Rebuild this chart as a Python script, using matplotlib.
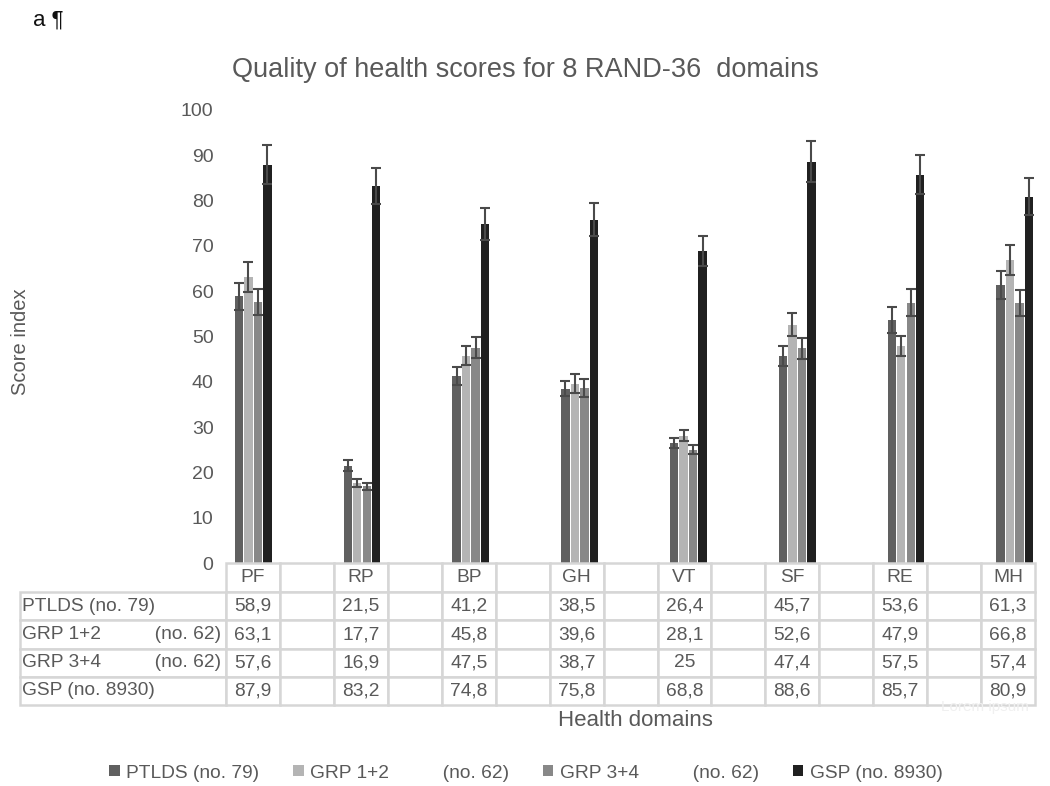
import numpy as np
import matplotlib
matplotlib.use('Agg')
from matplotlib import pyplot as plt
from matplotlib.table import Table

plt.rcParams['font.family'] = ['Liberation Sans', 'DejaVu Sans']

domains = ['PF', 'RP', 'BP', 'GH', 'VT', 'SF', 'RE', 'MH']
series = ['PTLDS (no. 79)', 'GRP 1+2', 'GRP 3+4', 'GSP (no. 8930)']
table_labels = ['PTLDS (no. 79)', 'GRP 1+2          (no. 62)',
                'GRP 3+4          (no. 62)', 'GSP (no. 8930)']
legend_labels = ['PTLDS (no. 79)', 'GRP 1+2          (no. 62)',
                 'GRP 3+4          (no. 62)', 'GSP (no. 8930)']

ptlds = [58.9, 21.5, 41.2, 38.5, 26.4, 45.7, 53.6, 61.3]
grp12 = [63.1, 17.7, 45.8, 39.6, 28.1, 52.6, 47.9, 66.8]
grp34 = [57.6, 16.9, 47.5, 38.7, 25, 47.4, 57.5, 57.4]
gsp = [87.9, 83.2, 74.8, 75.8, 68.8, 88.6, 85.7, 80.9]

# error bar half lengths
ptlds_err = [3.0, 1.3, 2.0, 1.7, 1.1, 2.3, 2.9, 3.1]
grp12_err = [3.3, 0.9, 2.2, 2.1, 1.2, 2.5, 2.3, 3.3]
grp34_err = [2.9, 0.8, 2.3, 2.0, 1.0, 2.3, 2.9, 2.9]
gsp_err = [4.3, 4.0, 3.5, 3.7, 3.3, 4.5, 4.3, 4.1]

values = [ptlds, grp12, grp34, gsp]
errors = [ptlds_err, grp12_err, grp34_err, gsp_err]
colors = ['#606060', '#b4b4b4', '#888888', '#202020']
text_color = '#595959'

fig = plt.figure(figsize=(10.5, 7.86), dpi=100)
W, H = 1050.0, 786.0

ax = fig.add_axes([226 / W, 1 - 563 / H, (1042 - 226) / W, (563 - 110) / H])
n_cols = 2 * len(domains) - 1
centers = np.arange(len(domains)) * 2
offsets = [-0.26, -0.087, 0.087, 0.26]
bars = []
for i in range(4):
    b = ax.bar(centers + offsets[i], values[i], width=0.155, color=colors[i],
               label=legend_labels[i], zorder=2)
    ax.errorbar(centers + offsets[i], values[i], yerr=errors[i], fmt='none',
                ecolor='#4a4a4a', elinewidth=1.5, capsize=3.5, capthick=1.5, zorder=3)
    bars.append(b)

ax.set_xlim(-0.5, n_cols - 0.5)
ax.set_ylim(0, 100)
ax.set_yticks(np.arange(0, 101, 10))
ax.set_xticks([])
ax.tick_params(axis='y', length=0, pad=9, labelsize=14, labelcolor=text_color)
for s in ax.spines.values():
    s.set_visible(False)

# data table below the chart
tab_ax = fig.add_axes([20 / W, 1 - 705 / H, (1035 - 20) / W, (705 - 563) / H])
tab_ax.axis('off')
tab = Table(tab_ax, bbox=[0, 0, 1, 1])
label_w = 206.0
col_w = 53.9
edge = '#d6d6d6'
fs = 13.8
for c in range(n_cols):
    txt = domains[c // 2] if c % 2 == 0 else ''
    cell = tab.add_cell(0, c + 1, width=col_w, height=29, text=txt, loc='center')
    cell.set_edgecolor(edge)
    cell.set_linewidth(1.8)
    cell.get_text().set_color(text_color)
    cell.get_text().set_fontsize(fs)
for r in range(4):
    cell = tab.add_cell(r + 1, 0, width=label_w, height=28, text=table_labels[r], loc='left')
    cell.set_edgecolor(edge)
    cell.set_linewidth(1.8)
    cell.PAD = 0.01
    cell.get_text().set_color(text_color)
    cell.get_text().set_fontsize(fs)
    for c in range(n_cols):
        if c % 2 == 0:
            v = values[r][c // 2]
            txt = str(v).replace('.', ',')
        else:
            txt = ''
        cell = tab.add_cell(r + 1, c + 1, width=col_w, height=28, text=txt, loc='center')
        cell.set_edgecolor(edge)
        cell.set_linewidth(1.8)
        cell.get_text().set_color(text_color)
        cell.get_text().set_fontsize(fs)
tab.auto_set_font_size(False)
tab_ax.add_table(tab)

fig.text(525 / W, 1 - 70 / H, 'Quality of health scores for 8 RAND-36  domains',
         ha='center', va='center', fontsize=19.5, color=text_color)
fig.text(33 / W, 1 - 20 / H, 'a \u00b6', ha='left', va='center', fontsize=16,
         color='#111111')
fig.text(20 / W, 1 - 342 / H, 'Score index', rotation=90, ha='center', va='center',
         fontsize=14.5, color=text_color)
fig.text(635 / W, 1 - 720 / H, 'Health domains', ha='center', va='center',
         fontsize=16, color=text_color)
fig.text(985 / W, 1 - 707 / H, 'Lorem ipsum', ha='center', va='center',
         fontsize=11, color='#f0f0f0')

fig.legend(handles=bars, labels=legend_labels, loc='center', ncol=4,
           bbox_to_anchor=(526 / W, 1 - 773 / H), frameon=False,
           handlelength=0.55, handleheight=0.55, handletextpad=0.35,
           columnspacing=1.75, fontsize=13.8, labelcolor=text_color)

fig.savefig('out.png', dpi=100)
